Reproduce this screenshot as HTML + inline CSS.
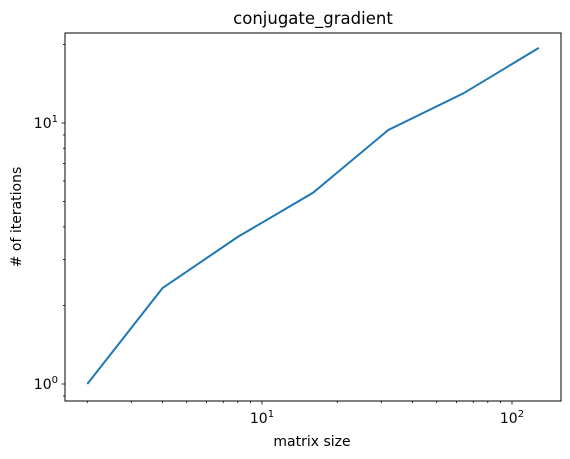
<!DOCTYPE html>
<html><head><meta charset="utf-8"><style>
html,body{margin:0;padding:0;background:#fff;}
svg{display:block;font-family:"DejaVu Sans","Liberation Sans",sans-serif;}
</style></head><body>
<svg id="chart" width="570" height="459" viewBox="0 0 570 459">
<rect width="570" height="459" fill="#fff"/>
<text x="313" y="24" font-size="16.5" text-anchor="middle" fill="#000">conjugate_gradient</text>
<text x="312" y="446" font-size="14" text-anchor="middle" fill="#000">matrix size</text>
<text transform="translate(21,217) rotate(-90)" font-size="14" text-anchor="middle" fill="#000"># of iterations</text>
<g id="ticks"></g>
<path id="line" fill="none" stroke="#1f77b4" stroke-width="2"/>
<rect x="65" y="33" width="496" height="368" fill="none" stroke="#000" stroke-width="1"/>
</svg>
<script>
const sizes = [2, 4, 8, 16, 32, 64, 128];
const iterations = [1, 2.33, 3.66, 5.4, 9.4, 13, 19.4];
const xMajor = [10, 100];
const yMajor = [1, 10];
const xLabels = ["1", "2"];
const yLabels = ["0", "1"];

const L=65,R=561,T=33,B=401;
const xs = v => 262 + 250*(Math.log10(v)-1);
const ys = v => 384 - 261*Math.log10(v);
const NS="http://www.w3.org/2000/svg";
const g=document.getElementById('ticks');
function line(x1,y1,x2,y2,name){
  const l=document.createElementNS(NS,'line');
  l.setAttribute('x1',x1);l.setAttribute('y1',y1);l.setAttribute('x2',x2);l.setAttribute('y2',y2);
  l.setAttribute('stroke','#000');l.setAttribute('stroke-width','0.8');
  
  
  g.appendChild(l);
}
function label(x,y,base,exp,anchor,name){
  const t=document.createElementNS(NS,'text');
  t.setAttribute('x',x);t.setAttribute('y',y);t.setAttribute('font-size','14');t.setAttribute('text-anchor',anchor);
  
  
  t.innerHTML=base+'<tspan dy="-6" font-size="10">'+exp+'</tspan>';
  g.appendChild(t);
}
for(let d=1;d<=1000;d*=10){for(let k=1;k<10;k++){const v=d*k;const x=xs(v);
  if(x<L||x>R)continue; if(k===1)continue; line(x,B,x,B+2,'x-minor-tick');}}
xMajor.forEach((v,i)=>{const x=xs(v);line(x,B,x,B+3.5,'x-major-tick');label(x,B+22,'10',xLabels[i],'middle','x-tick-label');});
for(let d=0.1;d<=100;d*=10){for(let k=1;k<10;k++){const v=d*k;const y=ys(v);
  if(y<T||y>B)continue; if(k===1)continue; line(L-2,y,L,y,'y-minor-tick');}}
yMajor.forEach((v,i)=>{const y=ys(v);line(L-3.5,y,L,y,'y-major-tick');label(L-7,y+5,'10',yLabels[i],'end','y-tick-label');});
document.getElementById('line').setAttribute('d',sizes.map((s,i)=>(i?'L':'M')+xs(s).toFixed(1)+','+ys(iterations[i]).toFixed(1)).join(' '));
</script>
</body></html>
